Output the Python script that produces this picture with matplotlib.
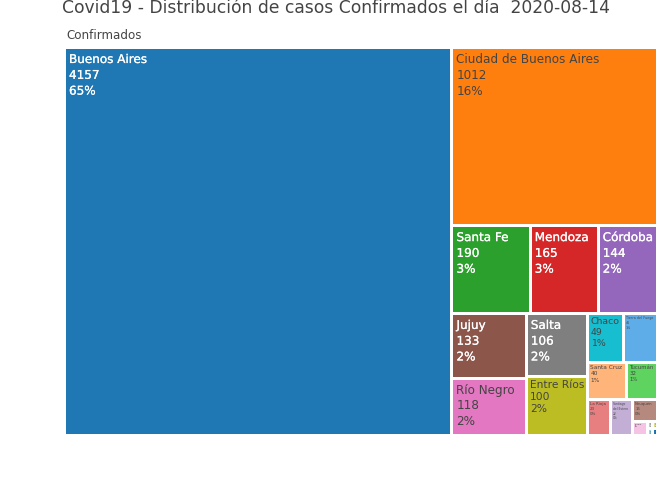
#!/usr/bin/env python3
"""Covid19 treemap of confirmed cases by province, 2020-08-14."""
import matplotlib
matplotlib.use("Agg")
import matplotlib.pyplot as plt
import matplotlib.patheffects as pe
from matplotlib.patches import Rectangle

provincias = ["Buenos Aires", "Ciudad de Buenos Aires", "Santa Fe", "Mendoza", "Córdoba",
              "Jujuy", "Río Negro", "Salta", "Entre Ríos", "Chaco", "Tierra del Fuego",
              "Santa Cruz", "Tucumán", "La Rioja", "Santiago\ndel Estero", "Neuquén",
              "Chubut", "San Luis", "La Pampa", "Catamarca", "Formosa"]
casos = [4157, 1012, 190, 165, 144, 133, 118, 106, 100, 49, 46, 40, 32, 23, 22, 15, 6, 1, 1, 1, 1]
porcentajes = ["65%", "16%", "3%", "3%", "2%", "2%", "2%", "2%", "2%", "1%", "1%", "1%", "1%",
               "0%", "0%", "0%", "0%", "0%", "0%", "0%", "0%"]
colores = ["#1f77b4", "#ff7f0e", "#2ca02c", "#d62728", "#9467bd", "#8c564b", "#e377c2",
           "#7f7f7f", "#bcbd22", "#17becf", "#5fade8", "#ffb47a", "#5fd35f", "#e77f80",
           "#c3aed6", "#b5897e", "#f5c3e4", "#c7c7c7", "#dbdb8d", "#9edae5", "#1f77b4"]
texto_claro = [True, False, True, True, True, True, False, True, False, False, False, False,
               False, False, False, False, False, False, False, False, False]

RATIO = 1          # plotly tiling.squarifyratio default
W, H = 672, 480
LEFT, TOP, RIGHT, BOTTOM = 66, 49, 656, 434
GAP = 1.5          # half the white space between tiles, px
FONT_PT = 12 * 0.72


def squarify(values, x0, y0, x1, y1):
    # d3 squarify, same as the plotly treemap tiling
    out = []
    i0, n, value = 0, len(values), sum(values)
    while i0 < n:
        dx, dy = x1 - x0, y1 - y0
        total = lo = hi = values[i0]
        alpha = max(dy / dx, dx / dy) / (value * RATIO)
        beta = total * total * alpha
        best = max(hi / beta, beta / lo)
        i1 = i0 + 1
        while i1 < n:
            v = values[i1]
            lo, hi = min(lo, v), max(hi, v)
            beta = (total + v) ** 2 * alpha
            r = max(hi / beta, beta / lo)
            if r > best:
                break
            total += v
            best = r
            i1 += 1
        row = values[i0:i1]
        if dx < dy:
            y_end = y0 + dy * total / value
            x = x0
            for v in row:
                w = dx * v / total
                out.append((x, y0, x + w, y_end))
                x += w
            y0 = y_end
        else:
            x_end = x0 + dx * total / value
            y = y0
            for v in row:
                h = dy * v / total
                out.append((x0, y, x_end, y + h))
                y += h
            x0 = x_end
        value -= total
        i0 = i1
    return out


fig = plt.figure(figsize=(W / 100, H / 100), dpi=100)
ax = fig.add_axes([0, 0, 1, 1])
ax.set_xlim(0, W)
ax.set_ylim(H, 0)
ax.axis("off")

fig.text(336 / W, 1 - 8 / H, "Covid19 - Distribución de casos Confirmados el día  2020-08-14",
         ha="center", va="center", fontsize=12.35, color="#444444")
fig.text(66 / W, 1 - 35.5 / H, "Confirmados", ha="left", va="center", fontsize=8.6, color="#444444")

renderer = fig.canvas.get_renderer()
tiles = squarify(casos, LEFT - GAP, TOP - GAP, RIGHT + GAP, BOTTOM + GAP)
for (x0, y0, x1, y1), nombre, n, pct, col, claro in zip(tiles, provincias, casos, porcentajes,
                                                        colores, texto_claro):
    x0, y0, x1, y1 = x0 + GAP, y0 + GAP, x1 - GAP, y1 - GAP
    w, h = max(x1 - x0, 0.5), max(y1 - y0, 0.5)
    tile = ax.add_patch(Rectangle((x0, y0), w, h, facecolor=col, edgecolor="none"))
    t = ax.text(x0 + 3, y0 + 4, f"{nombre}\n{n}\n{pct}", ha="left", va="top", linespacing=1.28,
                fontsize=FONT_PT, color="white" if claro else "#444444")
    bb = t.get_window_extent(renderer)
    escala = min(1, max(w - 4, 1) / bb.width, max(h - 4, 1) / bb.height)
    if escala < 1:
        t.set_fontsize(max(FONT_PT * escala, 0.1))
        t.set_position((x0 + 2 * escala + 0.5, y0 + 2 * escala + 0.5))
    t.set_clip_path(tile)   # tiny tiles: keep the specks of text inside
    t.set_clip_on(True)
    if claro:
        # the white labels look a bit heavier in the original
        t.set_path_effects([pe.withStroke(linewidth=0.15, foreground="white")])

fig.savefig("out.png", dpi=100)
